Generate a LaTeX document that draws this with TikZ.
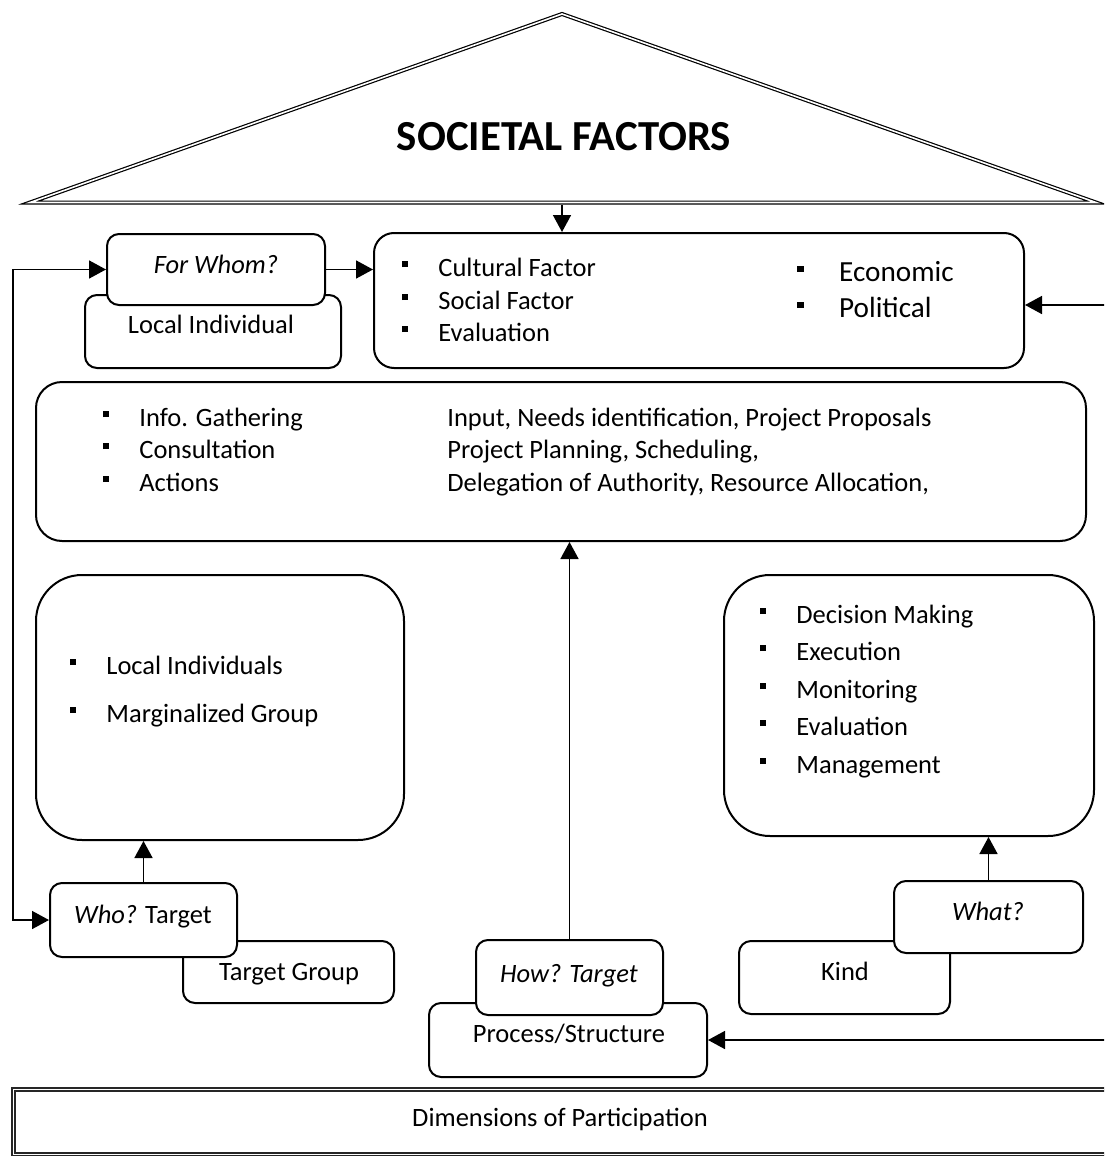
\documentclass[tikz,border=0pt]{standalone}
\usepackage{fontspec}
\setmainfont{Carlito}
\usetikzlibrary{arrows.meta,fit}
\tikzset{
  box/.style={draw, line width=1pt, rounded corners=#1, fill=white, inner sep=0pt},
  box/.default=6pt,
  tip/.tip={Triangle[length=8.5pt,width=9pt]},
  conn/.style={line width=0.8pt, -tip},
  txt/.style={anchor=base, inner sep=0pt, font=\fontsize{13.25}{16}\selectfont},
  itm/.style={anchor=base west, inner sep=0pt, font=\fontsize{13.25}{16}\selectfont},
  bigitm/.style={anchor=base west, inner sep=0pt, font=\fontsize{14.6}{17}\selectfont},
}
\newcommand\bul{\rule[4.4pt]{3pt}{3pt}\hspace{15pt}}
\newcommand\bigbul{\rule[4.6pt]{3.1pt}{3.1pt}\hspace{17.8pt}}

\begin{document}
\begin{tikzpicture}[x=0.5pt,y=-0.5pt]
\useasboundingbox (0,0) rectangle (1104,1156);
\clip (0,0) rectangle (1104,1156);

% roof
\draw[line width=0.6pt, double, double distance=0.8pt]
  (30,202.5) -- (562,14) -- (1096,202.5) -- cycle;
\node[inner sep=0pt, anchor=base, font=\bfseries\fontsize{21.4}{24}\selectfont] (roof) at (564,150) {SOCIETAL FACTORS};
\coordinate (roofbase) at (562,205);

% back boxes
\node[box, fit={(85,295) (341,368)}] (localind) {};
\node[box, fit={(183,941) (394,1003)}] (tgroup) {};
\node[box, fit={(429,1003) (707,1077)}] (proc) {};
\node[box, fit={(739,941) (950,1014)}] (kind) {};

% front boxes
\node[box, fit={(107,234) (325,305)}] (forwhom) {};
\node[box, fit={(50,883) (237,957)}] (who) {};
\node[box, fit={(476,940) (663,1015)}] (how) {};
\node[box, fit={(894,881) (1083,953)}] (what) {};

% large boxes
\node[box=10pt, fit={(374,233) (1024,368)}] (cult) {};
\node[box=13pt, fit={(36,382) (1086,541)}] (mid) {};
\node[box=23pt, fit={(36,575) (404,840)}] (leftbig) {};
\node[box=23pt, fit={(724,575) (1094,836)}] (rightbig) {};

% labels of the small boxes
\node[txt] (tforwhom) at (216,273) {\itshape For Whom?};
\node[txt] (tlocal) at (211,333) {Local Individual};
\node[txt] (twho) at (143,923) {\itshape Who?\upshape{} Target};
\node[txt] (ttgroup) at (289,980) {Target Group};
\node[txt] (thow) at (569,982) {\itshape How? Target};
\node[txt] (tproc) at (569,1042) {Process/Structure};
\node[txt] (twhat) at (988,920) {\itshape What?};
\node[txt] (tkind) at (845,980) {Kind};

% societal factors list
\node[itm] (c1) at (402,276) {\bul Cultural Factor};
\node[itm] (c2) at (402,309) {\bul Social Factor};
\node[itm] (c3) at (402,341) {\bul Evaluation};
\node[bigitm] (c4) at (797,281) {\bigbul Economic};
\node[bigitm] (c5) at (797,317) {\bigbul Political};

% activities list
\node[itm] (m1) at (103,426) {\bul Info. Gathering};
\node[itm] (m2) at (103,458) {\bul Consultation};
\node[itm] (m3) at (103,491) {\bul Actions};
\node[itm] (n1) at (447,426) {Input, Needs identification, Project Proposals};
\node[itm] (n2) at (447,458) {Project Planning, Scheduling,};
\node[itm] (n3) at (447,491) {Delegation of Authority, Resource Allocation,};

% who list
\node[itm] (l1) at (70,674) {\bul Local Individuals};
\node[itm] (l2) at (70,722) {\bul Marginalized Group};

% what list
\node[itm] (r1) at (760,623) {\bul Decision Making};
\node[itm] (r2) at (760,660) {\bul Execution};
\node[itm] (r3) at (760,698) {\bul Monitoring};
\node[itm] (r4) at (760,735) {\bul Evaluation};
\node[itm] (r5) at (760,773) {\bul Management};

% base frame
\draw[draw=black!85, line width=1pt, double, double distance=0.5pt]
  (13,1089) rectangle (1140,1154.5);
\node[txt] (dims) at (560,1126) {Dimensions of Participation};

% connectors
\coordinate (loopx) at (13,0);
\coordinate (rin1) at (1110,305);
\coordinate (rin2) at (1110,1040);
\draw[conn] (roofbase) -- (roofbase |- cult.north);
\draw[conn] (forwhom.east) -- (forwhom.east -| cult.west);
\draw[conn] (rin1) -- (rin1 -| cult.east);
\draw[conn] (rin2) -- (proc.east);
\draw[conn] (who.north) -- (who.north |- leftbig.south);
\draw[conn] (how.north) -- (how.north |- mid.south);
\draw[conn] (what.north) -- (what.north |- rightbig.south);
\draw[line width=0.8pt, tip-tip] (forwhom.west) -- (forwhom.west -| loopx)
  -- (who.west -| loopx) -- (who.west);
\end{tikzpicture}
\end{document}
